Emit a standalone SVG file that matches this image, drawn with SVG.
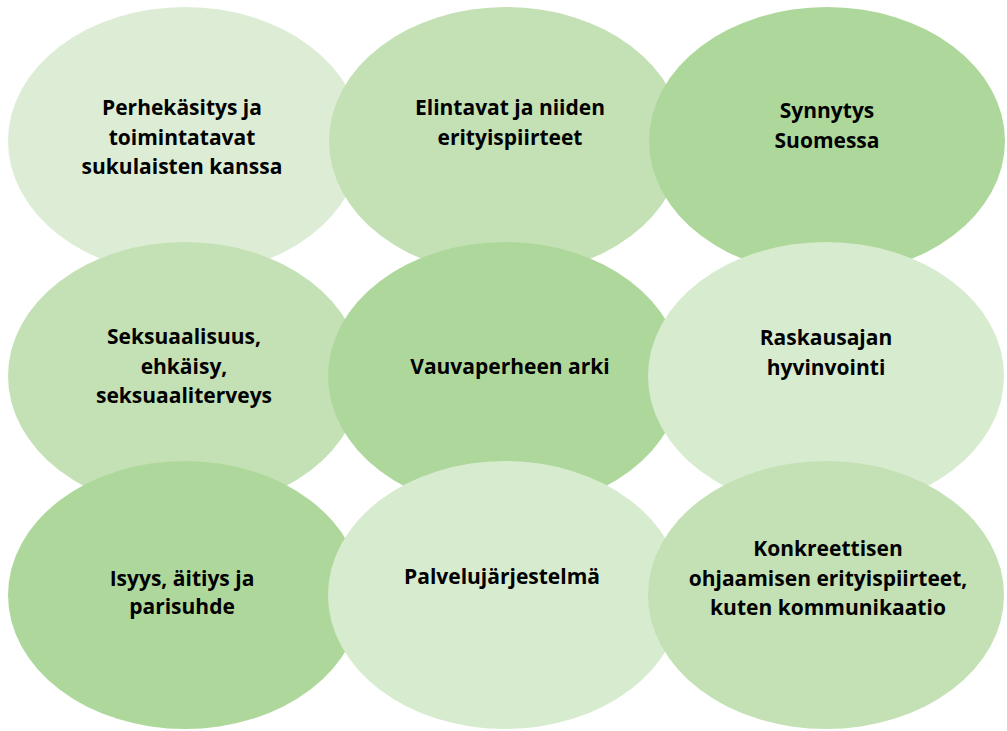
<svg xmlns="http://www.w3.org/2000/svg" width="1007" height="731" viewBox="0 0 1007 731">
<style>
.t{font-family:"Open Sans","Liberation Sans",sans-serif;font-weight:700;font-size:21px;fill:#000;text-anchor:middle}
.c1{fill:#DDEDD5}.c2{fill:#C4E1B5}.c3{fill:#AED89B}.c4{fill:#D7EBCE}
</style>
<rect width="1007" height="731" fill="#fff"/>
<g id="n1"><ellipse class="c1" cx="185" cy="141" rx="177" ry="134"/><text class="t" x="182" y="115">Perhekäsitys ja</text><text class="t" x="182" y="145">toimintatavat</text><text class="t" x="182" y="174">sukulaisten kanssa</text></g>
<g id="n2"><ellipse class="c2" cx="506" cy="141" rx="177" ry="134"/><text class="t" x="510" y="115">Elintavat ja niiden</text><text class="t" x="510" y="145">erityispiirteet</text></g>
<g id="n3"><ellipse class="c3" cx="827" cy="141" rx="178" ry="134"/><text class="t" x="827" y="118">Synnytys</text><text class="t" x="827" y="148">Suomessa</text></g>
<g id="n4"><ellipse class="c2" cx="185" cy="376" rx="177" ry="134"/><text class="t" x="184" y="344">Seksuaalisuus,</text><text class="t" x="184" y="374">ehkäisy,</text><text class="t" x="184" y="403">seksuaaliterveys</text></g>
<g id="n5"><ellipse class="c3" cx="505" cy="376" rx="177" ry="134"/><text class="t" x="510" y="374">Vauvaperheen arki</text></g>
<g id="n6"><ellipse class="c4" cx="826" cy="376" rx="178" ry="134"/><text class="t" x="826" y="345">Raskausajan</text><text class="t" x="826" y="375">hyvinvointi</text></g>
<g id="n7"><ellipse class="c3" cx="185" cy="595" rx="177" ry="134"/><text class="t" x="182" y="586">Isyys, äitiys ja</text><text class="t" x="182" y="614">parisuhde</text></g>
<g id="n8"><ellipse class="c4" cx="505" cy="595" rx="177" ry="134"/><text class="t" x="502" y="584">Palvelujärjestelmä</text></g>
<g id="n9"><ellipse class="c2" cx="826" cy="595" rx="178" ry="134"/><text class="t" x="828" y="556">Konkreettisen</text><text class="t" x="828" y="586">ohjaamisen erityispiirteet,</text><text class="t" x="828" y="615">kuten kommunikaatio</text></g>
<g id="connectors"/>
</svg>
